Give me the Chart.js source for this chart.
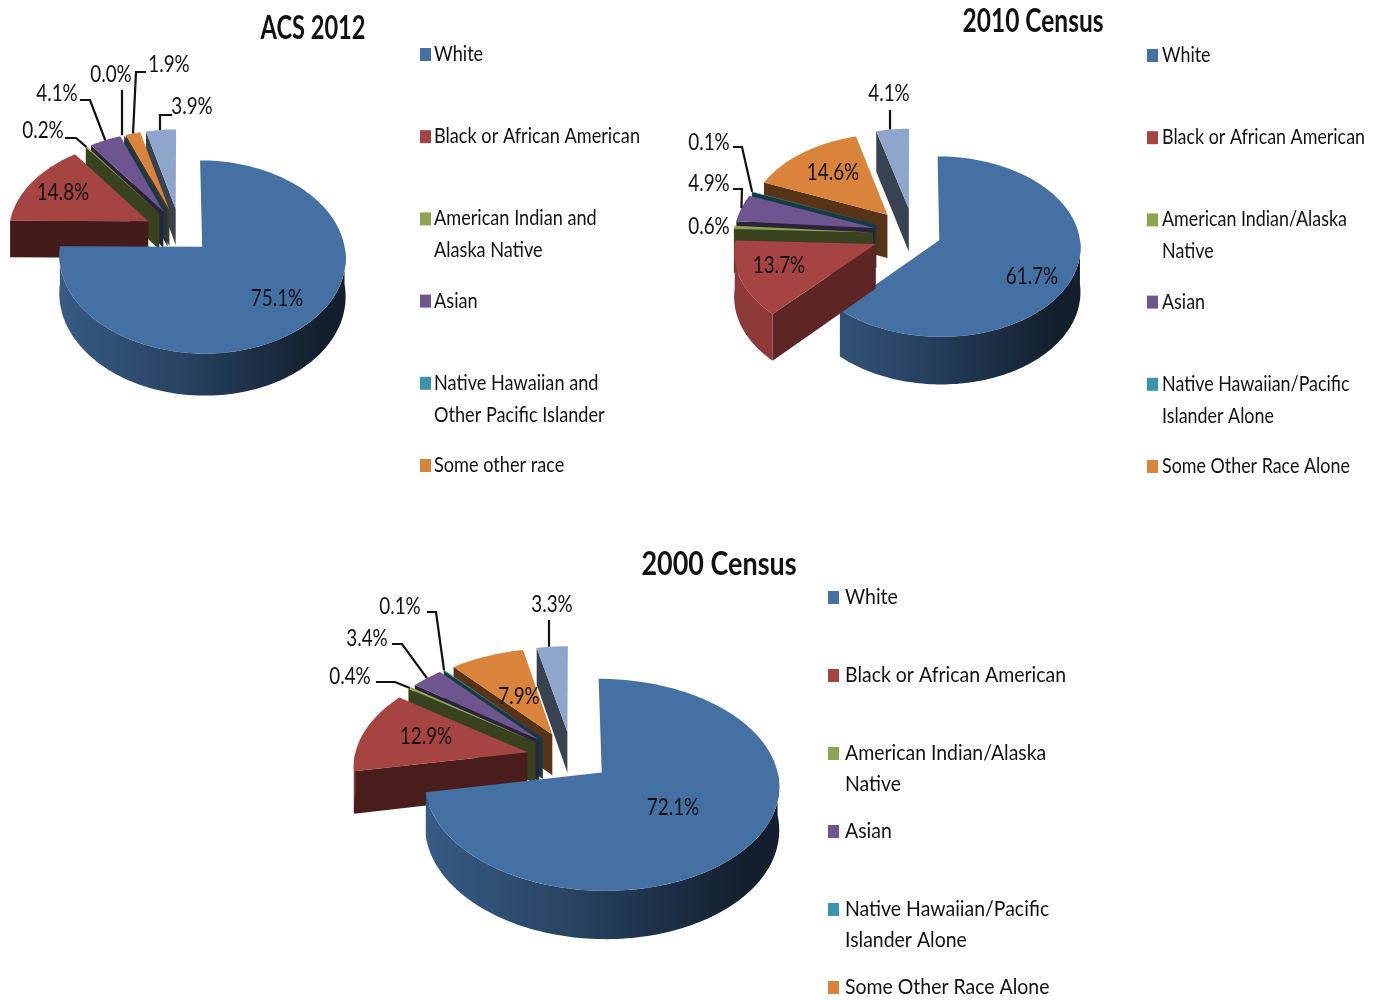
<!DOCTYPE html>
<html>
<head>
<meta charset="utf-8">
<title>Race composition</title>
<script src="https://cdn.jsdelivr.net/npm/chart.js@4/dist/chart.umd.min.js"></script>
<style>
  html, body { margin: 0; padding: 0; background: #fff; }
  body { position: relative; width: 1382px; height: 1000px; overflow: hidden; }
  canvas { position: absolute; }
</style>
</head>
<body>
<canvas id="acs2012" width="650" height="500" style="left:0;top:0"></canvas>
<canvas id="census2010" width="732" height="500" style="left:650px;top:0"></canvas>
<canvas id="census2000" width="800" height="500" style="left:300px;top:500px"></canvas>
<script>
// --- 1. Data ---
const labels2012 = ['White', 'Black or African American', ['American Indian and', 'Alaska Native'], 'Asian',
  ['Native Hawaiian and', 'Other Pacific Islander'], 'Some other race', 'Two or more races'];
const labels2010 = ['White', 'Black or African American', ['American Indian/Alaska', 'Native'], 'Asian',
  ['Native Hawaiian/Pacific', 'Islander Alone'], 'Some Other Race Alone', 'Two or More Races'];
const labels2000 = labels2010;

const values2012 = [75.1, 14.8, 0.2, 4.1, 0.0, 1.9, 3.9];
const values2010 = [61.7, 13.7, 0.6, 4.9, 0.1, 14.6, 4.1];
const values2000 = [72.1, 12.9, 0.4, 3.4, 0.1, 7.9, 3.3];

const sliceColors = ['#4470a4', '#a64441', '#8ca64f', '#6f5590', '#3a94ac', '#da833a', '#8fa6cc'];

// The legend in the picture runs out before the seventh entry
const legendEntries = 6;

// --- 2. Drawing helpers ---
const FONT = 'Lato, "Open Sans", sans-serif';

function shade(hex, k) {
  const n = parseInt(hex.slice(1), 16);
  return `rgb(${((n >> 16) & 255) * k | 0},${((n >> 8) & 255) * k | 0},${(n & 255) * k | 0})`;
}

function squeezedText(ctx, text, x, y, font, sx, align) {
  ctx.save();
  ctx.font = font;
  ctx.fillStyle = '#111';
  ctx.textBaseline = 'middle';
  ctx.textAlign = align || 'left';
  ctx.translate(x, y);
  ctx.scale(sx, 1);
  ctx.fillText(text, 0, 0);
  ctx.restore();
}

// Tilted perspective view of a polar point on the pie
function projector(view) {
  return function (arc, angle, radius, z) {
    const mid = (arc.startAngle + arc.endAngle) / 2;
    const off = arc.options.offset || 0;
    const X = off * Math.cos(mid) + radius * Math.cos(angle);
    const Y = off * Math.sin(mid) + radius * Math.sin(angle);
    const f = 1 / (1 - view.persp * Y / view.radius);
    return { x: view.cx + X * f, y: view.cy + (Y * view.tilt + z) * f };
  };
}

function tracePoints(ctx, pts) {
  ctx.beginPath();
  pts.forEach((p, i) => (i ? ctx.lineTo(p.x, p.y) : ctx.moveTo(p.x, p.y)));
  ctx.closePath();
}

function arcSamples(project, arc, from, to, z) {
  const steps = Math.max(2, Math.ceil((to - from) * 40));
  const pts = [];
  for (let i = 0; i <= steps; i++) {
    pts.push(project(arc, from + (to - from) * i / steps, arc.outerRadius, z));
  }
  return pts;
}

function drawSlice(ctx, view, project, arc, color) {
  const depth = view.depth;

  // Cut faces that look at the viewer, lighter when they also look to the right
  [[arc.startAngle, -Math.PI / 2], [arc.endAngle, Math.PI / 2]].forEach(([a, turn]) => {
    if (Math.sin(a + turn) <= 0) return;
    const apexTop = project(arc, 0, 0, 0);
    const apexLow = project(arc, 0, 0, depth);
    const rimTop = project(arc, a, arc.outerRadius, 0);
    const rimLow = project(arc, a, arc.outerRadius, depth);
    tracePoints(ctx, [apexTop, rimTop, rimLow, apexLow]);
    ctx.fillStyle = shade(color, 0.4 + 0.22 * Math.max(0, Math.cos(a + turn)));
    ctx.fill();
  });

  // Outer wall, only the part looking at the viewer
  const lo = Math.max(arc.startAngle, 0);
  const hi = Math.min(arc.endAngle, Math.PI);
  if (hi > lo) {
    const wall = arcSamples(project, arc, lo, hi, 0).concat(arcSamples(project, arc, lo, hi, depth).reverse());
    const grad = ctx.createLinearGradient(view.cx - view.radius, 0, view.cx + view.radius, 0);
    grad.addColorStop(0, shade(color, 0.85));
    grad.addColorStop(0.5, shade(color, 0.6));
    grad.addColorStop(1, shade(color, 0.28));
    tracePoints(ctx, wall);
    ctx.fillStyle = grad;
    ctx.fill();
  }

  // Top face
  const top = [project(arc, 0, 0, 0)].concat(arcSamples(project, arc, arc.startAngle, arc.endAngle, 0));
  tracePoints(ctx, top);
  ctx.fillStyle = color;
  ctx.fill();
}

// --- 3. Plugin: 3D pie from the arc elements, labels, legend and title ---
const pie3d = {
  id: 'pie3d',
  beforeDatasetsDraw(chart, args, opts) {
    const ctx = chart.ctx;
    const project = projector(opts.view);
    const arcs = chart.getDatasetMeta(0).data;
    const order = arcs.map((arc, i) => i).sort((a, b) => {
      const ya = project(arcs[a], (arcs[a].startAngle + arcs[a].endAngle) / 2, arcs[a].outerRadius / 2, 0).y;
      const yb = project(arcs[b], (arcs[b].startAngle + arcs[b].endAngle) / 2, arcs[b].outerRadius / 2, 0).y;
      return ya - yb;
    });
    ctx.save();
    ctx.translate(-opts.left, -opts.top);
    order.forEach(i => drawSlice(ctx, opts.view, project, arcs[i], chart.data.datasets[0].backgroundColor[i]));
    ctx.restore();
    return false;
  },
  afterDraw(chart, args, opts) {
    const ctx = chart.ctx;
    const project = projector(opts.view);
    const arcs = chart.getDatasetMeta(0).data;
    const values = chart.data.datasets[0].data;
    ctx.save();
    ctx.translate(-opts.left, -opts.top);

    // Value labels and leader lines
    opts.spots.forEach((spot, i) => {
      squeezedText(ctx, values[i].toFixed(1) + '%', spot.x, spot.y + 1, `23px ${FONT}`, 0.82, 'center');
      if (!spot.lead) return;
      const mid = (arcs[i].startAngle + arcs[i].endAngle) / 2;
      const end = project(arcs[i], mid, arcs[i].outerRadius, 0);
      ctx.beginPath();
      ctx.moveTo(spot.lead[0], spot.lead[1]);
      ctx.lineTo(spot.lead[2], spot.lead[1]);
      // Some leaders come straight down onto the slice
      ctx.lineTo(spot.drop ? spot.lead[2] : end.x, end.y);
      ctx.strokeStyle = '#111';
      ctx.lineWidth = 2.2;
      ctx.stroke();
    });

    // Title
    const titleFont = `bold ${opts.title.size}px ${FONT}`;
    ctx.font = titleFont;
    const titleScale = opts.title.width / ctx.measureText(opts.title.text).width;
    squeezedText(ctx, opts.title.text, opts.title.x, opts.title.y + 1, titleFont, titleScale, 'center');

    // Legend
    const lg = opts.legend;
    const legendFont = `22px ${FONT}`;
    ctx.font = legendFont;
    const legendScale = lg.width / ctx.measureText('Black or African American').width;
    chart.data.labels.slice(0, legendEntries).forEach((label, i) => {
      const y = lg.y + lg.step * i;
      ctx.fillStyle = chart.data.datasets[0].backgroundColor[i];
      ctx.fillRect(lg.x, y - 6, 11, 13);
      [].concat(label).forEach((line, k) => {
        squeezedText(ctx, line, lg.x + lg.textGap, y + k * lg.lineHeight, legendFont, legendScale);
      });
    });
    ctx.restore();
  }
};

// --- 4. Charts ---
function makePie(id, labels, values, offsets, settings) {
  return new Chart(document.getElementById(id), {
    type: 'pie',
    data: {
      labels: labels,
      datasets: [{ data: values, backgroundColor: sliceColors, offset: offsets, borderWidth: 0 }]
    },
    options: {
      responsive: false,
      animation: false,
      events: [],
      radius: settings.view.radius,
      plugins: { legend: { display: false }, tooltip: { enabled: false }, pie3d: settings }
    },
    plugins: [pie3d]
  });
}

makePie('acs2012', labels2012, values2012, [31, 36, 36, 36, 36, 36, 36], {
  left: 0, top: 0,
  view: { cx: 180, cy: 232, radius: 140, tilt: 0.66, persp: 0.104, depth: 37 },
  title: { text: 'ACS 2012', x: 313, y: 28, size: 32, width: 105 },
  legend: { x: 420, y: 54, step: 82.2, lineHeight: 32, width: 206, textGap: 14 },
  spots: [
    { x: 277, y: 298 }, { x: 63, y: 192 },
    { x: 43, y: 130, lead: [65, 138, 76] },
    { x: 57, y: 93, lead: [80, 100, 90] },
    { x: 111, y: 74, lead: [122, 90, 122], drop: true },
    { x: 169, y: 64, lead: [146, 72, 136] },
    { x: 192, y: 106, lead: [172, 115, 160], drop: true }
  ]
});

makePie('census2010', labels2010, values2010, [27, 41, 41, 41, 41, 41, 41], {
  left: 650, top: 0,
  view: { cx: 914, cy: 234, radius: 140, tilt: 0.635, persp: 0.07, depth: 44 },
  title: { text: '2010 Census', x: 1033, y: 21, size: 32, width: 141 },
  legend: { x: 1147, y: 55, step: 82.2, lineHeight: 32, width: 203, textGap: 15 },
  spots: [
    { x: 1032, y: 276 }, { x: 779, y: 265 },
    { x: 709, y: 226 },
    { x: 709, y: 183, lead: [733, 189, 742] },
    { x: 709, y: 142, lead: [733, 147, 742] },
    { x: 833, y: 172 },
    { x: 889, y: 93, lead: [890, 110, 890], drop: true }
  ]
});

makePie('census2000', labels2000, values2000, [38, 46, 46, 46, 46, 46, 46], {
  left: 300, top: 500,
  view: { cx: 572, cy: 758, radius: 173, tilt: 0.585, persp: 0.115, depth: 42 },
  title: { text: '2000 Census', x: 719, y: 564, size: 32, width: 155 },
  legend: { x: 828, y: 597, step: 78, lineHeight: 31, width: 221, textGap: 17 },
  spots: [
    { x: 673, y: 807 }, { x: 426, y: 736 },
    { x: 350, y: 676, lead: [376, 682, 395] },
    { x: 367, y: 638, lead: [392, 644, 402] },
    { x: 400, y: 606, lead: [427, 612, 436] },
    { x: 519, y: 696 },
    { x: 552, y: 604, lead: [549, 620, 549], drop: true }
  ]
});
</script>
</body>
</html>
